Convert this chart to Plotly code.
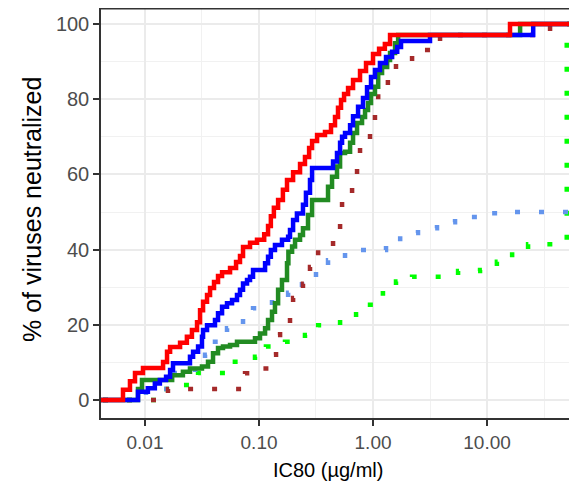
import plotly.graph_objects as go

# ---- data: step positions (IC80, ug/ml) and cumulative % neutralized ----
red_x = [0.001, 0.00641, 0.00738, 0.00817, 0.00960, 0.0144, 0.0156, 0.0166, 0.0203, 0.0233, 0.0258,
         0.0286, 0.0304, 0.0323, 0.0350, 0.0372, 0.0403, 0.0437, 0.0474, 0.0557, 0.0629, 0.0681,
         0.0724, 0.0834, 0.0960, 0.111, 0.120, 0.127, 0.135, 0.147, 0.162, 0.176, 0.199, 0.229,
         0.253, 0.275, 0.292, 0.323, 0.379, 0.428, 0.464, 0.493, 0.524, 0.557, 0.604, 0.668,
         0.769, 0.868, 1.00, 1.13, 1.27, 1.41, 15.9, 1000]
red_y = [0, 2.7, 5.0, 7.2, 8.5, 10.1, 12.8, 14.1, 15.2, 16.8, 18.6,
         20.7, 23.9, 26.1, 27.9, 29.8, 31.4, 33.0, 34.0, 35.1, 36.7, 38.3,
         40.7, 41.8, 42.6, 44.1, 46.3, 48.9, 51.1, 53.2, 55.9, 58.5, 60.6, 62.8,
         64.6, 67.0, 68.9, 70.5, 71.3, 73.1, 75.3, 77.7, 79.8, 81.4, 83.0, 85.1,
         87.5, 89.6, 92.0, 93.4, 94.7, 97.1, 100, 100]

blue_x = [0.001, 0.00868, 0.0106, 0.0122, 0.0135, 0.0153, 0.0166, 0.0176, 0.0248, 0.0264, 0.0292,
          0.0316, 0.0323, 0.0350, 0.0411, 0.0437, 0.0474, 0.0524, 0.0580, 0.0641, 0.0681, 0.0724,
          0.0785, 0.0834, 0.0886, 0.113, 0.120, 0.127, 0.138, 0.159, 0.180, 0.187, 0.199, 0.215,
          0.243, 0.258, 0.280, 0.292, 0.446, 0.483, 0.514, 0.535, 0.568, 0.629, 0.668, 0.739,
          0.817, 0.886, 0.960, 1.04, 1.15, 1.30, 1.47, 1.63, 1.76, 3.16, 25.4, 1000]
blue_y = [0, 2.2, 3.1, 4.4, 5.3, 6.2, 8.0, 9.8, 11.5, 12.8, 14.2,
          16.8, 18.6, 19.9, 21.3, 23.1, 24.8, 25.7, 26.6, 27.9, 29.3, 31.0,
          31.9, 32.8, 34.6, 36.4, 38.1, 39.9, 41.2, 42.6, 43.4, 45.2, 47.9, 49.6,
          51.9, 55.1, 58.5, 61.7, 63.4, 65.7, 68.4, 70.0, 71.0, 73.1, 75.5, 78.0,
          80.3, 83.2, 85.9, 87.8, 89.6, 91.2, 92.6, 93.9, 95.5, 97.1, 100, 100]

green_x = [0.001, 0.00868, 0.00941, 0.0173, 0.0215, 0.0248, 0.0316, 0.0357, 0.0395, 0.0437, 0.0483,
           0.0557, 0.0641, 0.0922, 0.102, 0.113, 0.120, 0.130, 0.138, 0.147, 0.159, 0.176,
           0.181, 0.195, 0.207, 0.229, 0.243, 0.269, 0.292, 0.403, 0.437, 0.483, 0.514, 0.568,
           0.629, 0.668, 0.724, 0.801, 0.851, 0.904, 0.960, 1.04, 1.11, 1.20, 1.33, 1.41, 1.56,
           1.66, 19.5, 1000]
green_y = [0, 2.9, 5.3, 6.6, 7.5, 8.4, 8.9, 10.2, 12.4, 13.8, 14.2,
           14.6, 15.5, 16.4, 17.7, 19.1, 21.3, 23.5, 25.7, 29.3, 31.9, 36.4,
           39.4, 40.8, 42.6, 43.9, 45.7, 49.2, 53.2, 56.7, 59.4, 62.1, 65.7, 66.0,
           68.4, 71.0, 73.7, 75.3, 77.1, 79.0, 81.4, 83.3, 87.0, 88.6, 90.4, 92.3, 94.9,
           97.1, 100, 100]

brown_x = [0.001, 0.0159, 0.0754, 0.0922, 0.125, 0.141, 0.153, 0.187, 0.199, 0.243, 0.280,
           0.330, 0.446, 0.514, 0.535, 0.655, 0.724, 0.769, 0.941, 1.04, 1.11, 1.35, 1.59,
           2.20, 3.87, 35.7, 1000]
brown_y = [0, 2.9, 7.1, 8.4, 12.0, 17.3, 18.6, 23.1, 27.1, 30.9, 35.4,
           39.9, 42.6, 47.1, 52.9, 57.2, 62.0, 67.8, 71.8, 76.6, 81.9, 85.6, 89.9,
           93.1, 97.1, 100, 100]

lightblue_x = [0.001, 0.0102, 0.0173, 0.0275, 0.0336, 0.0411, 0.0483, 0.0524, 0.0724, 0.0886,
               0.130, 0.180, 0.238, 0.316, 0.403, 0.568, 1.30, 1.73, 2.48, 3.64, 5.24, 8.17,
               13.0, 1000]
lightblue_y = [0, 2.9, 7.2, 10.0, 12.0, 15.5, 17.8, 19.1, 21.8, 24.4,
               27.1, 28.5, 31.4, 34.6, 37.2, 39.9, 41.8, 44.4, 45.7, 47.3, 48.7, 49.7,
               50.0, 50.0]

lime_x = [0.001, 0.0141, 0.0211, 0.0292, 0.0580, 0.0922, 0.115, 0.169, 0.253, 0.330, 0.514,
          0.710, 0.941, 1.22, 1.59, 2.20, 5.57, 8.68, 12.2, 16.6, 22.9, 50.0, 1000]
lime_y = [0, 2.9, 4.0, 7.2, 10.2, 11.5, 14.2, 15.5, 17.3, 19.9, 21.3,
          22.8, 25.3, 28.4, 31.5, 32.8, 34.3, 34.6, 36.8, 39.5, 41.4, 100, 100]

x_tickvals = [0.01, 0.1, 1, 10]
x_ticktext = ["0.01", "0.10", "1.00", "10.00"]
x_minor = [0.00316, 0.0316, 0.316, 3.16, 31.6]
y_tickvals = [0, 20, 40, 60, 80, 100]
y_minor = [10, 30, 50, 70, 90]

fig = go.Figure()

dot = "5px,19px"
for xs, ys, col, dash in [
    (lime_x, lime_y, "#00FF00", dot),
    (lightblue_x, lightblue_y, "#6495ED", dot),
    (brown_x, brown_y, "#A52A2A", dot),
    (green_x, green_y, "#228B22", "solid"),
    (blue_x, blue_y, "#0000FF", "solid"),
    (red_x, red_y, "#FF0000", "solid"),
]:
    fig.add_trace(go.Scatter(x=xs, y=ys, mode="lines", line_shape="hv",
                             line=dict(color=col, width=4.5, dash=dash),
                             showlegend=False, hoverinfo="skip"))

# page has an 8px body margin: figure occupies page x 8..577, y 8..487
PW, PH = 476, 410  # plot area (page x 101..577, page y 8..418)
fig.update_layout(
    width=569, height=479, autosize=False,
    margin=dict(l=93, r=0, t=0, b=69, pad=0),
    paper_bgcolor="white", plot_bgcolor="white",
    font=dict(family="Liberation Sans, Arial, sans-serif", color="#4D4D4D"),
)
fig.update_xaxes(
    type="log", range=[-2.386, 1.789],
    tickmode="array", tickvals=x_tickvals, ticktext=x_ticktext,
    tickfont=dict(size=19, color="#4D4D4D"),
    ticks="outside", ticklen=6, tickwidth=1.5, tickcolor="#333333",
    showline=True, linecolor="#333333", linewidth=1.5,
    showgrid=True, gridcolor="#EBEBEB", gridwidth=1.6,
    minor=dict(tickmode="array", tickvals=x_minor, showgrid=True,
               gridcolor="#F1F1F1", gridwidth=1, ticks=""),
    zeroline=False,
)
fig.update_yaxes(
    range=[-4.79, 104.26],
    tickmode="array", tickvals=y_tickvals,
    tickfont=dict(size=20, color="#4D4D4D"),
    ticks="outside", ticklen=6, tickwidth=1.5, tickcolor="#333333",
    showline=True, linecolor="#333333", linewidth=1.5,
    showgrid=True, gridcolor="#EBEBEB", gridwidth=1.6,
    minor=dict(tickmode="array", tickvals=y_minor, showgrid=True,
               gridcolor="#F1F1F1", gridwidth=1, ticks=""),
    zeroline=False,
)
# top border of panel
fig.add_shape(type="line", xref="paper", yref="paper", x0=0, x1=1, y0=0.998, y1=0.998,
              line=dict(color="#333333", width=1.5))

fig.add_annotation(text="IC80 (µg/ml)", xref="paper", yref="paper",
                   x=(328 - 101) / PW, y=(418 - 470) / PH, showarrow=False,
                   font=dict(size=20, color="black"), xanchor="center", yanchor="middle")
fig.add_annotation(text="% of viruses neutralized", xref="paper", yref="paper",
                   x=(32 - 101) / PW, y=(418 - 210) / PH, showarrow=False, textangle=-90,
                   font=dict(size=25, color="black"), xanchor="center", yanchor="middle")

fig.write_html("out.html")
